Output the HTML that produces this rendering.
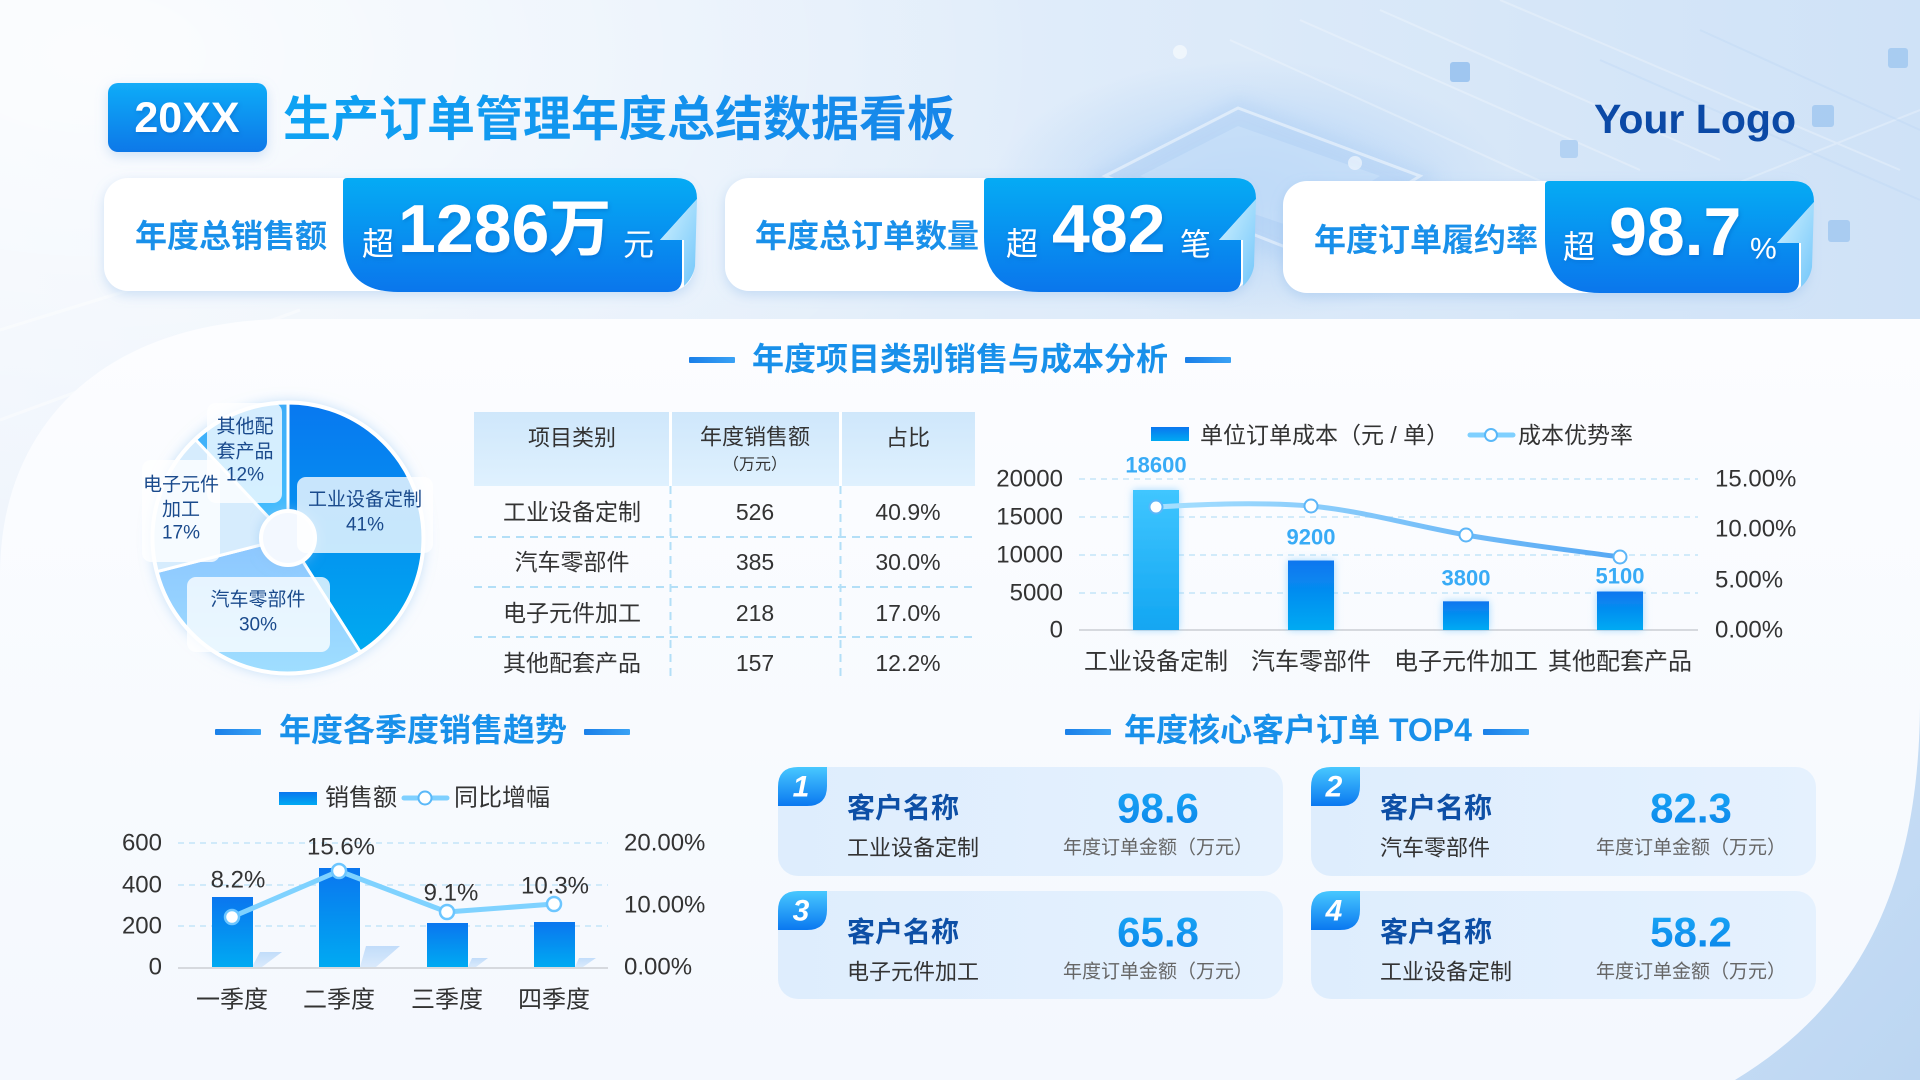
<!DOCTYPE html>
<html lang="zh">
<head>
<meta charset="utf-8">
<style>
html,body{margin:0;padding:0;width:1920px;height:1080px;overflow:hidden;background:#e6effa;}
svg{display:block;}
</style>
</head>
<body>
<svg width="1920" height="1080" viewBox="0 0 1920 1080" xmlns="http://www.w3.org/2000/svg" font-family="'Liberation Sans','Noto Sans CJK SC',sans-serif">
<defs>
  <linearGradient id="bgG" x1="0" y1="0" x2="1" y2="0">
    <stop offset="0" stop-color="#eef4fc"/>
    <stop offset="0.5" stop-color="#e1edfa"/>
    <stop offset="1" stop-color="#cfe2f7"/>
  </linearGradient>
  <radialGradient id="bgR" cx="0.05" cy="0.05" r="0.5">
    <stop offset="0" stop-color="#ffffff" stop-opacity="0.8"/>
    <stop offset="1" stop-color="#ffffff" stop-opacity="0"/>
  </radialGradient>
  <radialGradient id="chipR" cx="0.5" cy="0.5" r="0.5">
    <stop offset="0" stop-color="#a9cdf5" stop-opacity="0.8"/>
    <stop offset="1" stop-color="#a9cdf5" stop-opacity="0"/>
  </radialGradient>
  <linearGradient id="panelG" x1="0" y1="0" x2="0" y2="1">
    <stop offset="0" stop-color="#fcfdff"/>
    <stop offset="1" stop-color="#f4f8fe"/>
  </linearGradient>
  <linearGradient id="cornerG" x1="0" y1="0" x2="1" y2="1">
    <stop offset="0" stop-color="#d6e7f9"/>
    <stop offset="1" stop-color="#bcd6f2"/>
  </linearGradient>
  <linearGradient id="titleBoxG" x1="0" y1="0" x2="0" y2="1">
    <stop offset="0" stop-color="#12acf8"/>
    <stop offset="1" stop-color="#0a78e8"/>
  </linearGradient>
  <linearGradient id="titleG" x1="0" y1="0" x2="1" y2="0">
    <stop offset="0" stop-color="#0ea2f3"/>
    <stop offset="1" stop-color="#1786e9"/>
  </linearGradient>
  <linearGradient id="kpiG" x1="0" y1="0" x2="0" y2="1">
    <stop offset="0" stop-color="#05abf4"/>
    <stop offset="1" stop-color="#0a76ec"/>
  </linearGradient>
  <linearGradient id="foldG" x1="0" y1="0" x2="1" y2="1">
    <stop offset="0" stop-color="#d2f2ff"/>
    <stop offset="1" stop-color="#72c6fa"/>
  </linearGradient>
  <linearGradient id="secLineG" x1="0" y1="0" x2="1" y2="0">
    <stop offset="0" stop-color="#1a7fe8"/>
    <stop offset="1" stop-color="#3aa2f5"/>
  </linearGradient>
  <linearGradient id="barG" x1="0" y1="0" x2="0" y2="1">
    <stop offset="0" stop-color="#0a76ef"/>
    <stop offset="1" stop-color="#00aaf2"/>
  </linearGradient>
  <linearGradient id="bar1G" x1="0" y1="0" x2="0" y2="1">
    <stop offset="0" stop-color="#40c6ff"/>
    <stop offset="1" stop-color="#12a6f2"/>
  </linearGradient>
  <linearGradient id="s1G" x1="0" y1="0" x2="0" y2="1">
    <stop offset="0" stop-color="#0878f0"/>
    <stop offset="1" stop-color="#00aaf0"/>
  </linearGradient>
  <linearGradient id="s2G" x1="0" y1="0" x2="0" y2="1">
    <stop offset="0" stop-color="#8cc6ff"/>
    <stop offset="1" stop-color="#9fdeff"/>
  </linearGradient>
  <linearGradient id="s4G" x1="0" y1="0" x2="0" y2="1">
    <stop offset="0" stop-color="#3eacf8"/>
    <stop offset="1" stop-color="#45c0ff"/>
  </linearGradient>
  <linearGradient id="lineG" x1="0" y1="0" x2="1" y2="0">
    <stop offset="0" stop-color="#a6e0ff"/>
    <stop offset="1" stop-color="#55a8f4"/>
  </linearGradient>
  <linearGradient id="badgeG" x1="0" y1="0" x2="0" y2="1">
    <stop offset="0" stop-color="#48c8ff"/>
    <stop offset="1" stop-color="#0a78f0"/>
  </linearGradient>
  <linearGradient id="numG" x1="0" y1="0" x2="0" y2="1">
    <stop offset="0" stop-color="#1aaaf8"/>
    <stop offset="1" stop-color="#0a82e8"/>
  </linearGradient>
  <linearGradient id="cardG" x1="0" y1="0" x2="1" y2="0">
    <stop offset="0" stop-color="#deedfd"/>
    <stop offset="1" stop-color="#e5f1fe"/>
  </linearGradient>
  <linearGradient id="thG" x1="0" y1="0" x2="0" y2="1">
    <stop offset="0" stop-color="#cfe7fb"/>
    <stop offset="1" stop-color="#dff1fe"/>
  </linearGradient>
  <linearGradient id="shadowG" x1="0" y1="0" x2="0" y2="1">
    <stop offset="0" stop-color="#b9d8fa"/>
    <stop offset="1" stop-color="#d5e8fc"/>
  </linearGradient>
  <filter id="cardSh" x="-10%" y="-30%" width="120%" height="160%">
    <feDropShadow dx="0" dy="4" stdDeviation="6" flood-color="#7fb0e6" flood-opacity="0.35"/>
  </filter>
  <filter id="glow" x="-40%" y="-20%" width="180%" height="140%">
    <feDropShadow dx="0" dy="0" stdDeviation="4" flood-color="#7ccaff" flood-opacity="0.7"/>
  </filter>
  <filter id="txtSh" x="-10%" y="-20%" width="120%" height="140%">
    <feDropShadow dx="1" dy="2" stdDeviation="2" flood-color="#0a4fb0" flood-opacity="0.35"/>
  </filter>
  <filter id="pieSh" x="-20%" y="-20%" width="140%" height="140%">
    <feDropShadow dx="0" dy="0" stdDeviation="6" flood-color="#8cc2f2" flood-opacity="0.5"/>
  </filter>
  <filter id="blur8"><feGaussianBlur stdDeviation="8"/></filter>
</defs>

<!-- background -->
<rect x="0" y="0" width="1920" height="1080" fill="url(#bgG)"/>
<rect x="0" y="0" width="1920" height="1080" fill="url(#bgR)"/>
<!-- circuit decorations -->
<ellipse cx="1250" cy="190" rx="260" ry="130" fill="url(#chipR)"/>
<g opacity="0.75">
  <polygon points="1085,178 1238,98 1442,176 1300,268" fill="#b3d2f5" opacity="0.7" filter="url(#blur8)"/>
  <polygon points="1105,176 1238,108 1420,176 1298,252" fill="none" stroke="#ffffff" stroke-width="3" opacity="0.6"/>
  <polygon points="1140,176 1238,126 1380,176 1296,228" fill="#cfe5fb" opacity="0.6"/>
  <path d="M1230 40 L1560 190 M1300 20 L1640 170 M1380 10 L1720 160 M1500 0 L1900 170 M1620 230 L1920 110" stroke="#ffffff" stroke-width="2" opacity="0.35" fill="none"/>
  <path d="M1600 60 L1920 200 M1700 30 L1920 130" stroke="#b7d3f2" stroke-width="2" opacity="0.4" fill="none"/>
  <rect x="1450" y="62" width="20" height="20" fill="#8dbbee" rx="3"/>
  <rect x="1812" y="105" width="22" height="22" fill="#9cc5f0" rx="3"/>
  <rect x="1828" y="220" width="22" height="22" fill="#9cc5f0" rx="3"/>
  <rect x="1888" y="48" width="20" height="20" fill="#9cc5f0" rx="3"/>
  <rect x="1560" y="140" width="18" height="18" fill="#a8ccf2" rx="3"/>
  <circle cx="1180" cy="52" r="7" fill="#ffffff" opacity="0.7"/>
  <circle cx="1355" cy="163" r="7" fill="#ffffff" opacity="0.7"/>
</g>
<path d="M0 330 L420 200 M0 420 L300 310" stroke="#ffffff" stroke-width="3" opacity="0.45"/>

<!-- bottom-right corner blue -->
<rect x="1500" y="600" width="420" height="480" fill="url(#cornerG)"/>
<!-- main panel -->
<path d="M0 575 C0 420 110 319 290 319 L1920 319 L1920 700 C1920 900 1850 1010 1735 1080 L0 1080 Z" fill="url(#panelG)"/>

<!-- title -->
<rect x="108" y="83" width="159" height="69" rx="10" fill="url(#titleBoxG)" filter="url(#cardSh)"/>
<text x="187" y="118" text-anchor="middle" dominant-baseline="central" font-size="43" font-weight="bold" fill="#ffffff" filter="url(#txtSh)">20XX</text>
<text x="283" y="120" dominant-baseline="central" font-size="48" font-weight="bold" fill="url(#titleG)">生产订单管理年度总结数据看板</text>
<text x="1594" y="133" font-size="41" font-weight="bold" fill="#0b49a6" textLength="202" lengthAdjust="spacingAndGlyphs">Your Logo</text>

<!-- KPI cards -->
<rect x="104" y="178" width="590" height="113" rx="24" fill="#ffffff" filter="url(#cardSh)"/>
<rect x="725" y="178" width="525" height="113" rx="24" fill="#ffffff" filter="url(#cardSh)"/>
<rect x="1283" y="181" width="525" height="112" rx="24" fill="#ffffff" filter="url(#cardSh)"/>
<text x="135" y="236" dominant-baseline="central" font-size="32" font-weight="bold" fill="#1990ea">年度总销售额</text>
<text x="755" y="236" dominant-baseline="central" font-size="32" font-weight="bold" fill="#1990ea">年度总订单数量</text>
<text x="1314" y="240" dominant-baseline="central" font-size="32" font-weight="bold" fill="#1990ea">年度订单履约率</text>

<g transform="translate(343,178)">
  <path d="M4 0 L333 0 Q354 0 354 21 L317 62 L339 62 L339 100 Q339 114 325 114 L55 114 Q0 114 0 59 L0 4 Q0 0 4 0 Z" fill="url(#kpiG)"/>
  <path d="M354 21 L317 62 L341 62 L341 108 Q350 100 352 88 Z" fill="url(#foldG)"/>
</g>
<g transform="translate(984,178)">
  <path d="M4 0 L251 0 Q272 0 272 21 L235 62 L257 62 L257 100 Q257 114 243 114 L55 114 Q0 114 0 59 L0 4 Q0 0 4 0 Z" fill="url(#kpiG)"/>
  <path d="M272 21 L235 62 L259 62 L259 108 Q268 100 270 88 Z" fill="url(#foldG)"/>
</g>
<g transform="translate(1545,181)">
  <path d="M4 0 L248 0 Q269 0 269 21 L232 62 L254 62 L254 100 Q254 112 240 112 L55 112 Q0 112 0 58 L0 4 Q0 0 4 0 Z" fill="url(#kpiG)"/>
  <path d="M269 21 L232 62 L256 62 L256 106 Q265 98 267 86 Z" fill="url(#foldG)"/>
</g>
<g fill="#ffffff" filter="url(#txtSh)">
  <text x="362" y="244" dominant-baseline="central" font-size="32">超</text>
  <text x="398" y="229" dominant-baseline="central" font-size="68" font-weight="bold">1286<tspan font-size="62">万</tspan></text>
  <text x="623" y="245" dominant-baseline="central" font-size="31">元</text>
  <text x="1006" y="244" dominant-baseline="central" font-size="32">超</text>
  <text x="1052" y="229" dominant-baseline="central" font-size="68" font-weight="bold">482</text>
  <text x="1180" y="245" dominant-baseline="central" font-size="31">笔</text>
  <text x="1563" y="247" dominant-baseline="central" font-size="32">超</text>
  <text x="1609" y="232" dominant-baseline="central" font-size="68" font-weight="bold">98.7</text>
  <text x="1750" y="249" dominant-baseline="central" font-size="30">%</text>
</g>

<!-- section titles -->
<g fill="url(#secLineG)">
  <rect x="689" y="357" width="46" height="6" rx="1"/>
  <rect x="1185" y="357" width="46" height="6" rx="1"/>
  <rect x="215" y="729" width="46" height="6" rx="1"/>
  <rect x="584" y="729" width="46" height="6" rx="1"/>
  <rect x="1065" y="729" width="46" height="6" rx="1"/>
  <rect x="1483" y="729" width="46" height="6" rx="1"/>
</g>
<g font-size="32" font-weight="bold" fill="#1890ea" dominant-baseline="central" text-anchor="middle">
  <text x="960" y="359">年度项目类别销售与成本分析</text>
  <text x="423" y="730">年度各季度销售趋势</text>
  <text x="1298" y="730">年度核心客户订单 TOP4</text>
</g>

<!-- pie -->
<g filter="url(#pieSh)">
  <circle cx="288" cy="538" r="137" fill="#ffffff"/>
</g>
<g stroke="#ffffff" stroke-width="3" stroke-linejoin="round">
  <path d="M288 538 L288 403 A135 135 0 0 1 360.3 652 Z" fill="url(#s1G)"/>
  <path d="M288 538 L360.3 652 A135 135 0 0 1 157.2 571.6 Z" fill="url(#s2G)"/>
  <path d="M288 538 L157.2 571.6 A135 135 0 0 1 195.6 439.6 Z" fill="#d6ecfd"/>
  <path d="M288 538 L195.6 439.6 A135 135 0 0 1 288 403 Z" fill="url(#s4G)"/>
</g>
<circle cx="288" cy="538" r="136" fill="none" stroke="#ffffff" stroke-width="3"/>
<circle cx="288" cy="538" r="27" fill="#f3f8ff" stroke="#ffffff" stroke-width="4" filter="url(#pieSh)"/>
<g fill="#ffffff" fill-opacity="0.78">
  <rect x="297" y="477" width="136" height="76" rx="9"/>
  <rect x="187" y="577" width="143" height="75" rx="9"/>
  <rect x="142" y="460" width="78" height="102" rx="9"/>
  <rect x="207" y="403" width="75" height="100" rx="9"/>
</g>
<g font-size="19" fill="#1a4a8c" text-anchor="middle" dominant-baseline="central">
  <text x="365" y="500">工业设备定制</text>
  <text x="365" y="525">41%</text>
  <text x="258" y="600">汽车零部件</text>
  <text x="258" y="625">30%</text>
  <text x="181" y="485">电子元件</text>
  <text x="181" y="510">加工</text>
  <text x="181" y="533">17%</text>
  <text x="245" y="427">其他配</text>
  <text x="245" y="452">套产品</text>
  <text x="245" y="475">12%</text>
</g>

<!-- table -->
<rect x="474" y="412" width="501" height="74" fill="url(#thG)"/>
<rect x="669" y="412" width="3" height="74" fill="#ffffff"/>
<rect x="839" y="412" width="3" height="74" fill="#ffffff"/>
<g stroke="#b3dff7" stroke-width="2" stroke-dasharray="8 6" fill="none">
  <path d="M474 537 H975 M474 587 H975 M474 637 H975"/>
  <path d="M670.5 486 V682 M840.5 486 V682"/>
</g>
<g fill="#333333" text-anchor="middle" dominant-baseline="central">
  <text x="572" y="438" font-size="22">项目类别</text>
  <text x="755" y="437" font-size="22">年度销售额</text>
  <text x="755" y="465" font-size="16">（万元）</text>
  <text x="908" y="438" font-size="22">占比</text>
  <g font-size="23">
    <text x="572" y="512">工业设备定制</text><text x="755" y="512">526</text><text x="908" y="512">40.9%</text>
    <text x="572" y="562">汽车零部件</text><text x="755" y="562">385</text><text x="908" y="562">30.0%</text>
    <text x="572" y="613">电子元件加工</text><text x="755" y="613">218</text><text x="908" y="613">17.0%</text>
    <text x="572" y="663">其他配套产品</text><text x="755" y="663">157</text><text x="908" y="663">12.2%</text>
  </g>
</g>

<!-- cost bar chart -->
<rect x="1151" y="427" width="38" height="14" fill="url(#barG)"/>
<text x="1200" y="435" dominant-baseline="central" font-size="23" fill="#333333">单位订单成本（元 / 单）</text>
<line x1="1470" y1="435" x2="1513" y2="435" stroke="#7fd0ff" stroke-width="5" stroke-linecap="round"/>
<circle cx="1491" cy="435" r="6" fill="#ffffff" stroke="#5ab8f8" stroke-width="2"/>
<text x="1518" y="435" dominant-baseline="central" font-size="23" fill="#333333">成本优势率</text>

<g stroke="#c4e5f8" stroke-width="1.6" stroke-dasharray="6 5">
  <path d="M1079 479 H1698 M1079 517 H1698 M1079 555 H1698 M1079 593 H1698"/>
</g>
<line x1="1079" y1="630" x2="1698" y2="630" stroke="#d6d9de" stroke-width="2"/>
<g font-size="24" fill="#333333" dominant-baseline="central">
  <g text-anchor="end">
    <text x="1063" y="479">20000</text><text x="1063" y="517">15000</text><text x="1063" y="555">10000</text><text x="1063" y="593">5000</text><text x="1063" y="630">0</text>
  </g>
  <text x="1715" y="479">15.00%</text><text x="1715" y="529">10.00%</text><text x="1715" y="580">5.00%</text><text x="1715" y="630">0.00%</text>
</g>
<g filter="url(#glow)">
  <rect x="1133" y="490" width="46" height="140" fill="url(#bar1G)"/>
  <rect x="1288" y="560.5" width="46" height="69.5" fill="url(#barG)"/>
  <rect x="1443" y="601.3" width="46" height="28.7" fill="url(#barG)"/>
  <rect x="1597" y="591.5" width="46" height="38.5" fill="url(#barG)"/>
</g>
<g font-size="22" font-weight="bold" fill="#38abf6" text-anchor="middle" dominant-baseline="central">
  <text x="1156" y="465">18600</text><text x="1311" y="537">9200</text><text x="1466" y="578">3800</text><text x="1620" y="576">5100</text>
</g>
<path d="M1156 507 C1208 504, 1259 502, 1311 506 C1363 511, 1414 526, 1466 535 C1518 544, 1569 550, 1620 557" fill="none" stroke="url(#lineG)" stroke-width="5" stroke-linecap="round"/>
<g fill="#ffffff" stroke="#5cb6f8" stroke-width="2">
  <circle cx="1156" cy="507" r="6.5"/><circle cx="1311" cy="506" r="6.5"/><circle cx="1466" cy="535" r="6.5"/><circle cx="1620" cy="557" r="6.5"/>
</g>
<g font-size="24" fill="#333333" text-anchor="middle" dominant-baseline="central">
  <text x="1156" y="662">工业设备定制</text><text x="1311" y="662">汽车零部件</text><text x="1466" y="662">电子元件加工</text><text x="1620" y="662">其他配套产品</text>
</g>

<!-- quarterly chart -->
<rect x="279" y="792" width="38" height="13" fill="url(#barG)"/>
<text x="325" y="798" dominant-baseline="central" font-size="24" fill="#333333">销售额</text>
<line x1="404" y1="798" x2="447" y2="798" stroke="#7fd0ff" stroke-width="5" stroke-linecap="round"/>
<circle cx="425" cy="798" r="6.5" fill="#ffffff" stroke="#5ab8f8" stroke-width="2"/>
<text x="454" y="798" dominant-baseline="central" font-size="24" fill="#333333">同比增幅</text>

<g stroke="#c4e5f8" stroke-width="1.6" stroke-dasharray="6 5">
  <path d="M178 843 H608 M178 885 H608 M178 926 H608"/>
</g>
<line x1="178" y1="968" x2="608" y2="968" stroke="#d6d9de" stroke-width="2"/>
<g font-size="24" fill="#333333" dominant-baseline="central">
  <g text-anchor="end">
    <text x="162" y="843">600</text><text x="162" y="885">400</text><text x="162" y="926">200</text><text x="162" y="967">0</text>
  </g>
  <text x="624" y="843">20.00%</text><text x="624" y="905">10.00%</text><text x="624" y="967">0.00%</text>
</g>
<g fill="url(#shadowG)" opacity="0.85">
  <polygon points="252,967 260,952 282,952 262,967"/>
  <polygon points="360,967 366,946 400,946 376,967"/>
  <polygon points="468,967 472,958 488,958 476,967"/>
  <polygon points="575,967 579,958 596,958 583,967"/>
</g>
<g>
  <rect x="212" y="897" width="41" height="70" fill="url(#barG)"/>
  <rect x="319" y="868" width="41" height="99" fill="url(#barG)"/>
  <rect x="427" y="923" width="41" height="44" fill="url(#barG)"/>
  <rect x="534" y="922" width="41" height="45" fill="url(#barG)"/>
</g>
<polyline points="232,917 339,871 447,912 554,904" fill="none" stroke="#7fd2ff" stroke-width="5" stroke-linejoin="round" stroke-linecap="round"/>
<g fill="#ffffff" stroke="#6cc6ff" stroke-width="2.5">
  <circle cx="232" cy="917" r="7"/><circle cx="339" cy="871" r="7"/><circle cx="447" cy="912" r="7"/><circle cx="554" cy="904" r="7"/>
</g>
<g font-size="24" fill="#333333" text-anchor="middle" dominant-baseline="central">
  <text x="238" y="880">8.2%</text><text x="341" y="847">15.6%</text><text x="451" y="893">9.1%</text><text x="555" y="886">10.3%</text>
  <text x="232" y="1000">一季度</text><text x="339" y="1000">二季度</text><text x="447" y="1000">三季度</text><text x="554" y="1000">四季度</text>
</g>

<!-- TOP4 cards -->
<g>
  <g transform="translate(778,767)">
    <rect width="505" height="109" rx="20" fill="url(#cardG)"/>
    <path d="M0 20 Q0 0 20 0 L49 0 L49 19 Q49 39 29 39 L0 39 Z" fill="url(#badgeG)"/>
    <text x="23" y="20" text-anchor="middle" dominant-baseline="central" font-size="30" font-weight="bold" font-style="italic" fill="#ffffff">1</text>
    <text x="69" y="41" dominant-baseline="central" font-size="28" font-weight="bold" fill="#0d4fa6">客户名称</text>
    <text x="69" y="81" dominant-baseline="central" font-size="22" fill="#333333">工业设备定制</text>
    <text x="380" y="41" text-anchor="middle" dominant-baseline="central" font-size="42" font-weight="bold" fill="url(#numG)">98.6</text>
    <text x="380" y="81" text-anchor="middle" dominant-baseline="central" font-size="19" fill="#666666">年度订单金额（万元）</text>
  </g>
  <g transform="translate(1311,767)">
    <rect width="505" height="109" rx="20" fill="url(#cardG)"/>
    <path d="M0 20 Q0 0 20 0 L49 0 L49 19 Q49 39 29 39 L0 39 Z" fill="url(#badgeG)"/>
    <text x="23" y="20" text-anchor="middle" dominant-baseline="central" font-size="30" font-weight="bold" font-style="italic" fill="#ffffff">2</text>
    <text x="69" y="41" dominant-baseline="central" font-size="28" font-weight="bold" fill="#0d4fa6">客户名称</text>
    <text x="69" y="81" dominant-baseline="central" font-size="22" fill="#333333">汽车零部件</text>
    <text x="380" y="41" text-anchor="middle" dominant-baseline="central" font-size="42" font-weight="bold" fill="url(#numG)">82.3</text>
    <text x="380" y="81" text-anchor="middle" dominant-baseline="central" font-size="19" fill="#666666">年度订单金额（万元）</text>
  </g>
  <g transform="translate(778,891)">
    <rect width="505" height="108" rx="20" fill="url(#cardG)"/>
    <path d="M0 20 Q0 0 20 0 L49 0 L49 19 Q49 39 29 39 L0 39 Z" fill="url(#badgeG)"/>
    <text x="23" y="20" text-anchor="middle" dominant-baseline="central" font-size="30" font-weight="bold" font-style="italic" fill="#ffffff">3</text>
    <text x="69" y="41" dominant-baseline="central" font-size="28" font-weight="bold" fill="#0d4fa6">客户名称</text>
    <text x="69" y="81" dominant-baseline="central" font-size="22" fill="#333333">电子元件加工</text>
    <text x="380" y="41" text-anchor="middle" dominant-baseline="central" font-size="42" font-weight="bold" fill="url(#numG)">65.8</text>
    <text x="380" y="81" text-anchor="middle" dominant-baseline="central" font-size="19" fill="#666666">年度订单金额（万元）</text>
  </g>
  <g transform="translate(1311,891)">
    <rect width="505" height="108" rx="20" fill="url(#cardG)"/>
    <path d="M0 20 Q0 0 20 0 L49 0 L49 19 Q49 39 29 39 L0 39 Z" fill="url(#badgeG)"/>
    <text x="23" y="20" text-anchor="middle" dominant-baseline="central" font-size="30" font-weight="bold" font-style="italic" fill="#ffffff">4</text>
    <text x="69" y="41" dominant-baseline="central" font-size="28" font-weight="bold" fill="#0d4fa6">客户名称</text>
    <text x="69" y="81" dominant-baseline="central" font-size="22" fill="#333333">工业设备定制</text>
    <text x="380" y="41" text-anchor="middle" dominant-baseline="central" font-size="42" font-weight="bold" fill="url(#numG)">58.2</text>
    <text x="380" y="81" text-anchor="middle" dominant-baseline="central" font-size="19" fill="#666666">年度订单金额（万元）</text>
  </g>
</g>
</svg>
</body>
</html>
